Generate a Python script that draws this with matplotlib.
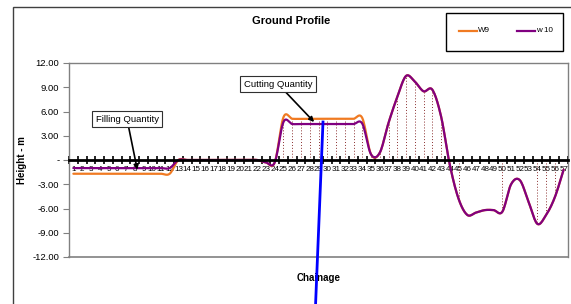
import matplotlib
matplotlib.use("Agg")
import matplotlib.pyplot as plt
import numpy as np
from matplotlib.patches import Rectangle
from matplotlib.lines import Line2D

FAM = ['Liberation Sans Narrow', 'Liberation Sans', 'DejaVu Sans']
plt.rcParams['font.family'] = FAM

# ---------------- data ----------------
chainage = list(range(1, 58))
w9 = [-1.7]*12 + [0.0]*10 + [-0.3, -0.3] + [5.3, 5.1, 5.1, 5.1, 5.1, 5.1, 5.1, 5.1, 5.1, 5.2] + \
     [0.7, 0.9, 4.6, 7.8, 10.4, 9.7, 8.5, 8.7, 5.4, -0.6, -4.8, -6.8, -6.5, -6.2, -6.2, -6.4,
      -3.0, -2.5, -5.2, -7.9, -6.8, -4.6, -1.2]
w10 = [-1.0]*12 + [0.0]*10 + [-0.3, -0.3] + [4.7, 4.45, 4.45, 4.45, 4.45, 4.45, 4.45, 4.45, 4.45, 4.5] + \
      [0.7, 0.9, 4.6, 7.8, 10.4, 9.7, 8.5, 8.7, 5.4, -0.6, -4.8, -6.8, -6.5, -6.2, -6.2, -6.4,
       -3.0, -2.5, -5.2, -7.9, -6.8, -4.6, -1.2]
drop_idx = list(range(25, 46)) + [50, 54, 55, 56]
yticks = [12, 9, 6, 3, 0, -3, -6, -9, -12]
ytick_labels = ['12.00', '9.00', '6.00', '3.00', '-', '-3.00', '-6.00', '-9.00', '-12.00']
series_names = ['W9', 'w 10']


def smooth_path(x, y, n=12):
    """Excel-style smoothed line rendering (Catmull-Rom) through the data points."""
    x = np.asarray(x, float); y = np.asarray(y, float)
    px = np.concatenate([[x[0]], x, [x[-1]]])
    py = np.concatenate([[y[0]], y, [y[-1]]])
    xs, ys = [], []
    t = np.linspace(0, 1, n, endpoint=False)
    for i in range(1, len(px) - 2):
        p0x, p1x, p2x, p3x = px[i-1], px[i], px[i+1], px[i+2]
        p0y, p1y, p2y, p3y = py[i-1], py[i], py[i+1], py[i+2]
        m1x, m2x = (p2x - p0x) / 2, (p3x - p1x) / 2
        m1y, m2y = (p2y - p0y) / 2, (p3y - p1y) / 2
        h00 = 2*t**3 - 3*t**2 + 1; h10 = t**3 - 2*t**2 + t
        h01 = -2*t**3 + 3*t**2; h11 = t**3 - t**2
        xs.append(h00*p1x + h10*m1x + h01*p2x + h11*m2x)
        ys.append(h00*p1y + h10*m1y + h01*p2y + h11*m2y)
    xs.append([x[-1]]); ys.append([y[-1]])
    return np.concatenate(xs), np.concatenate(ys)


W, H = 571, 304
fig = plt.figure(figsize=(W/100, H/100), dpi=100)

def fx(px): return px / W
def fy(py): return 1 - py / H

# outer chart border
fig.patches.append(Rectangle((fx(12.5), fy(320)), fx(580), fy(6.5) - fy(320),
                             transform=fig.transFigure, fill=False, ec='#404040', lw=1.0))

ax = fig.add_axes([fx(69), fy(257), fx(568) - fx(69), fy(63) - fy(257)])
ax.set_xlim(0.5, 57.5)
ax.set_ylim(-12, 12)

# drop lines
for i in drop_idx:
    top = max(w9[i-1], w10[i-1]) if w9[i-1] > 0 else min(w9[i-1], w10[i-1])
    ax.plot([i, i], [0, top], color='#8b3030', lw=0.7, ls=(0, (1, 2)), zorder=2)

sx, sy = smooth_path(chainage, w9)
ax.plot(sx, sy, color='#f07a22', lw=1.6, zorder=3, solid_capstyle='round', label=series_names[0])
sx, sy = smooth_path(chainage, w10)
ax.plot(sx, sy, color='#800080', lw=1.6, zorder=4, solid_capstyle='round', label=series_names[1])

# spines
for s in ['top', 'right', 'left']:
    ax.spines[s].set_color('#808080')
    ax.spines[s].set_linewidth(1.0)
ax.spines['bottom'].set_position(('data', 0))
ax.spines['bottom'].set_color('black')
ax.spines['bottom'].set_linewidth(2.0)
ax.spines['bottom'].set_zorder(5)
ax.plot([0, 1], [0, 0], transform=ax.transAxes, color='#808080', lw=1.2, clip_on=False)

ax.set_xticks(np.arange(0.5, 58, 1))
ax.set_xticklabels([])
ax.set_xticks(chainage, minor=True)
ax.set_xticklabels([str(c) for c in chainage], minor=True, fontsize=5.8, family=FAM)
ax.tick_params(axis='x', which='major', direction='inout', length=6, width=1.2, color='black')
ax.tick_params(axis='x', which='minor', length=0, pad=4)

ax.set_yticks(yticks)
ax.set_yticklabels(ytick_labels, fontsize=6.8, family=FAM)
ax.tick_params(axis='y', direction='out', length=4, width=0.8, color='#808080', pad=3)

# title, axis labels
fig.text(fx(291), fy(21), 'Ground Profile', ha='center', va='center', fontsize=8, fontweight='bold', family=FAM)
fig.text(fx(319), fy(278), 'Chainage', ha='center', va='center', fontsize=7, fontweight='bold', family=FAM)
fig.text(fx(22), fy(160), 'Height - m', ha='center', va='center', rotation=90, fontsize=7,
         fontweight='bold', family=FAM)

# legend box
fig.patches.append(Rectangle((fx(446), fy(51)), fx(563) - fx(446), fy(13) - fy(51),
                             transform=fig.transFigure, fill=True, fc='white', ec='black', lw=1.0))
fig.lines.append(Line2D([fx(459), fx(477)], [fy(31), fy(31)], transform=fig.transFigure, color='#f07a22', lw=1.6))
fig.text(fx(478), fy(31), series_names[0], ha='left', va='center', fontsize=5.8, family=FAM)
fig.lines.append(Line2D([fx(517), fx(535)], [fy(31), fy(31)], transform=fig.transFigure, color='#800080', lw=1.6))
fig.text(fx(536), fy(31), series_names[1], ha='left', va='center', fontsize=5.8, family=FAM)

# annotations
bbox = dict(boxstyle='square,pad=0.35', fc='white', ec='#303030', lw=0.8)
ax.annotate('Filling Quantity', xy=(8.3, -1.2), xycoords='data',
            xytext=(fx(127), fy(119)), textcoords='figure fraction', ha='center', va='center',
            fontsize=6.8, family=FAM, bbox=bbox,
            arrowprops=dict(arrowstyle='-|>', color='black', lw=1.2, mutation_scale=7,
                            shrinkA=0, shrinkB=0), zorder=6)
ax.annotate('Cutting Quantity', xy=(28.5, 4.7), xycoords='data',
            xytext=(fx(278), fy(84)), textcoords='figure fraction', ha='center', va='center',
            fontsize=6.8, family=FAM, bbox=bbox,
            arrowprops=dict(arrowstyle='-|>', color='black', lw=1.2, mutation_scale=7,
                            shrinkA=0, shrinkB=0), zorder=6)

# blue pointer line
fig.lines.append(Line2D([fx(323), fx(315.5)], [fy(122), fy(306)], transform=fig.transFigure,
                        color='#0000ff', lw=2.0, zorder=10))

fig.savefig('out.png', dpi=100)
